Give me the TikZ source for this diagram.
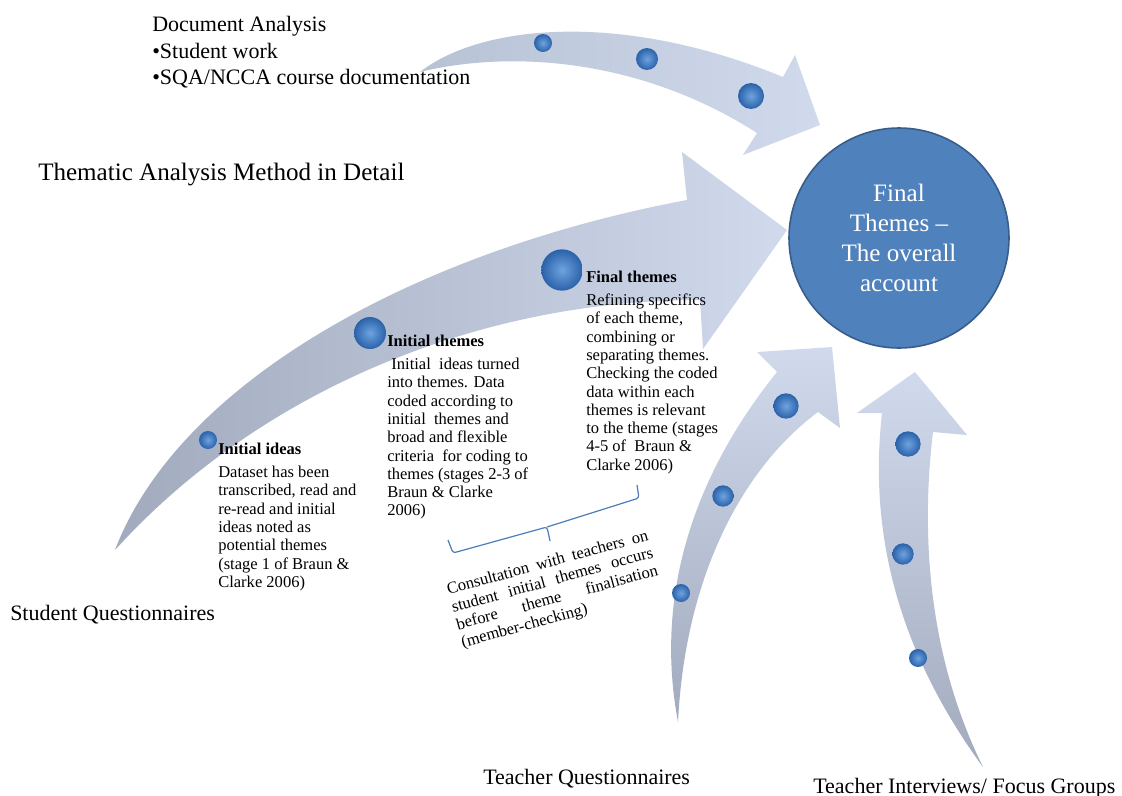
\documentclass[tikz,border=0pt]{standalone}
\usepackage{fontspec}
\setmainfont{Liberation Serif}
\usepackage{xcolor}
\usetikzlibrary{positioning}

\definecolor{hubblue}{HTML}{4F81BD}
\definecolor{hubedge}{HTML}{385D8A}
\definecolor{beadin}{HTML}{6FA3E0}
\definecolor{beadout}{HTML}{2A62AA}
\definecolor{flowlight}{HTML}{D0DAEC}
\definecolor{flowmid}{HTML}{B8C2D5}
\definecolor{flowdark}{HTML}{A2ABBE}
\definecolor{bracketblue}{HTML}{4A7EBB}

\begin{document}
\begin{tikzpicture}[
        x=0.75pt, y=-0.75pt,
        flow/.style={draw=none, left color=flowdark, right color=flowlight},
        flowup/.style={draw=none, top color=flowlight, bottom color=flowdark},
        bead/.style={circle, inner sep=0pt, minimum size=#1, draw=none,
            inner color=beadin, outer color=beadout},
        hub/.style={
            circle,
            fill=hubblue,
            draw=hubedge,
            line width=1.2pt,
            minimum size=165pt,
            text=white,
            align=center,
            font=\fontsize{18.8}{22.5}\selectfont
        },
        source/.style={inner sep=0pt, anchor=base west, font=\fontsize{16.5}{20}\selectfont},
        stage/.style={inner sep=0pt, anchor=north west, align=left, font=\fontsize{12.4}{13.7}\selectfont}
    ]

        \useasboundingbox (0,0) rectangle (1122,796);
        \fill[white] (0,0) rectangle (1122,796);

        % arrows
        \shade[flow] (115,550) .. controls (180,380) and (420,250) .. (687,200) -- (682,152) -- (787,230)
            -- (703,349) -- (700,300) .. controls (480,300) and (260,390) .. (115,550) -- cycle;
        \shade[flow, left color=flowmid] (420,72) .. controls (480,25) and (620,10) .. (783,77) -- (795,55) -- (820,125)
            -- (743,155) -- (757,133) .. controls (640,58) and (510,50) .. (420,72) -- cycle;
        \shade[flowup] (678,722) .. controls (655,600) and (690,480) .. (777,372) -- (757,352) -- (832,347)
            -- (840,428) -- (818,412) .. controls (740,470) and (685,580) .. (678,722) -- cycle;
        \shade[flowup] (983,767) .. controls (890,640) and (870,520) .. (882,413) -- (857,413) -- (915,372)
            -- (967,435) -- (933,432) .. controls (920,540) and (930,660) .. (983,767) -- cycle;

        % beads
        \foreach \x/\y/\d [count=\i] in {543/43/13.5pt, 647/59/16.5pt, 751/96/19.5pt,
                208/440/13.5pt, 370/333/24pt, 562/270/31pt,
                681/593/13.5pt, 723/496/16pt, 786/406/19pt,
                918/658/13.5pt, 903/554/16pt, 908/444/19pt}
            \node[bead=\d] (bead\i) at (\x,\y) {};

        \node[hub] (final) at (899,238) {Final\\Themes --\\The overall\\account};

        \node[source, font=\fontsize{18.8}{22}\selectfont] (title) at (38,180) {Thematic Analysis Method in Detail};
        \node[source, anchor=north west, align=left] (docs) at (152,16)
            {Document Analysis\\\textbullet Student work\\\textbullet SQA/NCCA course documentation};
        \node[source] (studq) at (10,620) {Student Questionnaires};
        \node[source] (teachq) at (483,784) {Teacher Questionnaires};
        \node[source] (interv) at (813,793) {Teacher Interviews/ Focus Groups};

        \node[stage] (ideas) at (218,443) {\textbf{Initial ideas}\\[3.5pt]Dataset has been\\transcribed, read and\\re-read and initial\\ideas noted as\\potential themes\\(stage 1 of Braun \&\\Clarke 2006)};
        \node[stage] (initial) at (387,335) {\textbf{Initial themes}\\[3.5pt]\ Initial\ \ ideas turned\\into themes. Data\\coded according to\\initial\ \ themes and\\broad and flexible\\criteria\ \ for coding to\\themes (stages 2-3 of\\Braun \& Clarke\\2006)};
        \node[stage] (finalst) at (586,271) {\textbf{Final themes}\\[3.5pt]Refining specifics\\of each theme,\\combining or\\separating themes.\\Checking the coded\\data within each\\themes is relevant\\to the theme (stages\\4-5 of\ \ Braun \&\\Clarke 2006)};

        % bracket under the stages
        \draw[bracketblue, line width=0.9pt, rounded corners=2pt]
            (448,540) -- (453,553) -- (547,527) -- (550,541);
        \draw[bracketblue, line width=0.9pt, rounded corners=2pt]
            (547,527) -- (639,498) -- (637,485);
        \node[stage, anchor=center, rotate=15.3, text width=156pt, align=justify] (consult) at (555,590)
            {Consultation with teachers on\linebreak student initial themes occurs\linebreak before theme finalisation\linebreak (member-checking)\par};

    \end{tikzpicture}
\end{document}
